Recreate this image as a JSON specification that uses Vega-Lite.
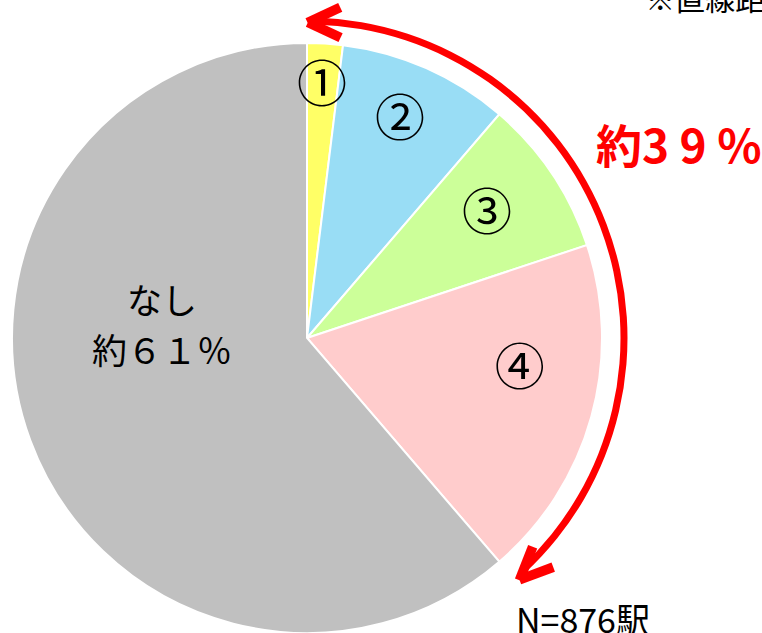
{
  "$schema": "https://vega.github.io/schema/vega-lite/v6.json",
  "width": 614,
  "height": 590,
  "autosize": {"type": "none"},
  "padding": {"left": 0, "top": 43, "right": 148, "bottom": 0},
  "background": "white",
  "config": {"view": {"stroke": null}, "font": "Noto Sans CJK JP"},
  "layer": [
    {
      "data": {"values": [
        {"category": "①", "value": 1.95, "order": 1},
        {"category": "②", "value": 9.35, "order": 2},
        {"category": "③", "value": 8.6, "order": 3},
        {"category": "④", "value": 18.8, "order": 4},
        {"category": "なし", "value": 61.3, "order": 5}
      ]},
      "mark": {"type": "arc", "outerRadius": 295, "stroke": "white", "strokeWidth": 2},
      "encoding": {
        "theta": {"field": "value", "type": "quantitative", "stack": true},
        "order": {"field": "order", "type": "quantitative"},
        "color": {
          "field": "category", "type": "nominal", "legend": null,
          "scale": {"domain": ["①", "②", "③", "④", "なし"], "range": ["#FFFF66", "#99DDF5", "#CCFF99", "#FFCCCC", "#C0C0C0"]}
        }
      }
    },
    {
      "data": {"values": [{"t": "arc"}]},
      "mark": {"type": "arc", "theta": 0.012, "theta2": 2.405, "innerRadius": 313.5, "outerRadius": 320.5, "cornerRadius": 3.5, "color": "#FF0000"},
      "encoding": {}
    },
    {
      "data": {"values": [{"t": "━"}]},
      "mark": {"type": "text", "theta": 0.0526, "radius": 322.9, "angle": 335, "dy": 2.5, "font": "DejaVu Sans Mono", "fontSize": 58, "color": "#FF0000", "align": "center", "baseline": "middle"},
      "encoding": {"text": {"field": "t"}}
    },
    {
      "data": {"values": [{"t": "━"}]},
      "mark": {"type": "text", "theta": 0.0552, "radius": 308.0, "angle": 25, "dy": 2.5, "font": "DejaVu Sans Mono", "fontSize": 58, "color": "#FF0000", "align": "center", "baseline": "middle"},
      "encoding": {"text": {"field": "t"}}
    },
    {
      "data": {"values": [{"t": "━"}]},
      "mark": {"type": "text", "theta": 2.3698, "radius": 314.7, "angle": 291.5, "dy": 2.5, "font": "DejaVu Sans Mono", "fontSize": 58, "color": "#FF0000", "align": "center", "baseline": "middle"},
      "encoding": {"text": {"field": "t"}}
    },
    {
      "data": {"values": [{"t": "━"}]},
      "mark": {"type": "text", "theta": 2.3696, "radius": 329.0, "angle": 339.4, "dy": 2.5, "font": "DejaVu Sans Mono", "fontSize": 58, "color": "#FF0000", "align": "center", "baseline": "middle"},
      "encoding": {"text": {"field": "t"}}
    },
    {
      "data": {"values": [{"t": "①"}]},
      "mark": {"type": "text", "theta": 0.0597, "radius": 251, "fontSize": 50, "color": "black", "align": "center", "baseline": "middle"},
      "encoding": {"text": {"field": "t"}}
    },
    {
      "data": {"values": [{"t": "②"}]},
      "mark": {"type": "text", "theta": 0.405, "radius": 236, "fontSize": 50, "color": "black", "align": "center", "baseline": "middle"},
      "encoding": {"text": {"field": "t"}}
    },
    {
      "data": {"values": [{"t": "③"}]},
      "mark": {"type": "text", "theta": 0.971, "radius": 218, "fontSize": 50, "color": "black", "align": "center", "baseline": "middle"},
      "encoding": {"text": {"field": "t"}}
    },
    {
      "data": {"values": [{"t": "④"}]},
      "mark": {"type": "text", "theta": 1.719, "radius": 215, "fontSize": 50, "color": "black", "align": "center", "baseline": "middle"},
      "encoding": {"text": {"field": "t"}}
    },
    {
      "data": {"values": [{"t": ["なし", "約６１％"]}]},
      "mark": {"type": "text", "theta": 4.95, "radius": 149.2, "fontSize": 35, "lineHeight": 50, "color": "black", "align": "center", "baseline": "middle"},
      "encoding": {"text": {"field": "t"}}
    },
    {
      "data": {"values": [{"t": "約3 9 %"}]},
      "mark": {"type": "text", "theta": 1.1006, "radius": 417, "fontSize": 46, "fontWeight": "bold", "color": "#FF0000", "align": "center", "baseline": "middle"},
      "encoding": {"text": {"field": "t"}}
    },
    {
      "data": {"values": [{"t": "N=876駅"}]},
      "mark": {"type": "text", "theta": 2.3723, "radius": 396.7, "fontSize": 34, "color": "black", "align": "center", "baseline": "middle"},
      "encoding": {"text": {"field": "t"}}
    },
    {
      "data": {"values": [{"t": "※直線距離"}]},
      "mark": {"type": "text", "theta": 0.801, "radius": 471, "fontSize": 30, "color": "black", "align": "left", "baseline": "alphabetic"},
      "encoding": {"text": {"field": "t"}}
    }
  ]
}
